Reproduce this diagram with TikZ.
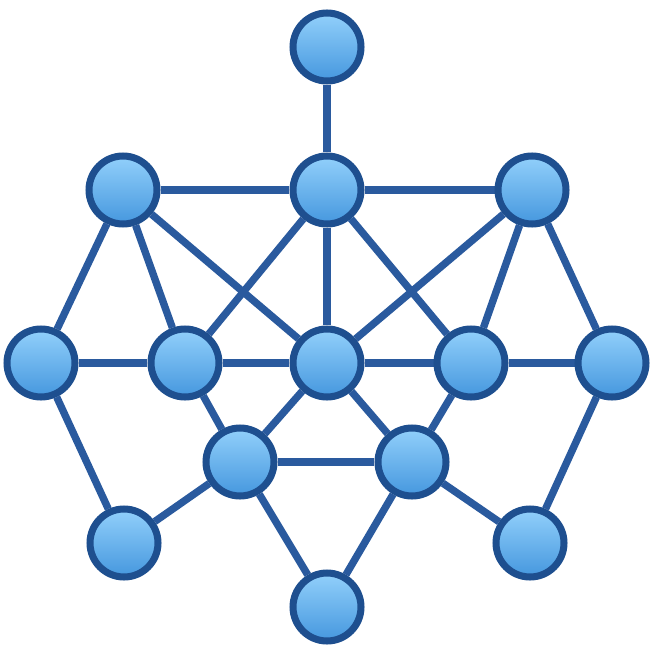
\documentclass[tikz,border=0pt]{standalone}
\usetikzlibrary{positioning, backgrounds}

\definecolor{ringblue}{HTML}{1E4F8F}
\definecolor{edgeblue}{HTML}{2A5A9E}
\definecolor{topfill}{HTML}{92D0FB}
\definecolor{botfill}{HTML}{4597DE}

\begin{document}
\begin{tikzpicture}[
    x=0.02cm, y=-0.02cm,
    vertex/.style={circle, draw=ringblue, line width=4pt, top color=topfill, bottom color=botfill, minimum size=1.36cm, inner sep=0pt},
    link/.style={draw=edgeblue, line width=4.2pt}
]
\useasboundingbox (0,0) rectangle (655,655);

% Nodes
\node[vertex] (peak) at (327,47) {};
\node[vertex] (ul) at (123,190) {};
\node[vertex] (uc) at (327,190) {};
\node[vertex] (ur) at (532,190) {};
\node[vertex] (ml) at (41,363) {};
\node[vertex] (mil) at (185,363) {};
\node[vertex] (mc) at (327,363) {};
\node[vertex] (mir) at (471,363) {};
\node[vertex] (mr) at (612,363) {};
\node[vertex] (ll) at (240,462) {};
\node[vertex] (lr) at (412,462) {};
\node[vertex] (bl) at (124,543) {};
\node[vertex] (br) at (530,543) {};
\node[vertex] (bot) at (327,607) {};

% Edges
\begin{scope}[on background layer]
\foreach \a/\b in {peak/uc, ul/uc, uc/ur, ul/ml, ul/mil, ul/mc, uc/mil, uc/mc, uc/mir,
                   ur/mc, ur/mir, ur/mr, ml/mil, mil/mc, mc/mir, mir/mr,
                   ml/bl, mr/br, mil/ll, mc/ll, mc/lr, mir/lr, ll/lr,
                   ll/bl, lr/br, ll/bot, lr/bot}
    \draw[link] (\a) -- (\b);
\end{scope}

\end{tikzpicture}
\end{document}
